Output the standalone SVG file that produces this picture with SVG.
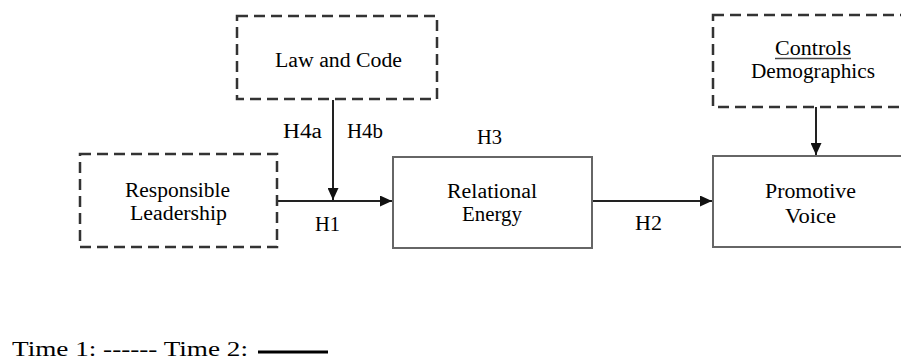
<svg xmlns="http://www.w3.org/2000/svg" width="901" height="360" viewBox="0 0 901 360">
<style>
text{font-family:"Liberation Serif","Times New Roman",serif;font-size:20px;fill:#000;}
.dash{fill:#fff;stroke:#333;stroke-width:2.5;stroke-dasharray:11 6;}
.solid{fill:#fff;stroke:#666;stroke-width:2;}
.conn{stroke:#222;stroke-width:2;fill:none;}
</style>
<defs>
<marker id="ah" viewBox="0 0 12 11" refX="12" refY="5.5" markerWidth="12" markerHeight="11" markerUnits="userSpaceOnUse" orient="auto">
<path d="M0,0 L12,5.5 L0,11 Z" fill="#111"/>
</marker>
</defs>
<rect width="901" height="360" fill="#fff"/>
<g id="connectors">
<line class="conn" x1="333" y1="100" x2="333" y2="200" marker-end="url(#ah)"/>
<line class="conn" x1="277" y1="201" x2="392" y2="201" marker-end="url(#ah)"/>
<line class="conn" x1="593" y1="201" x2="712" y2="201" marker-end="url(#ah)"/>
<line class="conn" x1="816" y1="107" x2="816" y2="155" marker-end="url(#ah)"/>
<text x="283" y="138" textLength="39" lengthAdjust="spacingAndGlyphs">H4a</text>
<text x="347" y="138" textLength="36" lengthAdjust="spacingAndGlyphs">H4b</text>
<text x="477" y="144" textLength="25" lengthAdjust="spacingAndGlyphs">H3</text>
<text x="315" y="231" textLength="25" lengthAdjust="spacingAndGlyphs">H1</text>
<text x="635" y="230" textLength="27" lengthAdjust="spacingAndGlyphs">H2</text>
</g>
<g id="law">
<rect class="dash" x="237" y="16" width="200" height="83"/>
<text x="275" y="67" textLength="127" lengthAdjust="spacingAndGlyphs">Law and Code</text>
</g>
<g id="responsible">
<rect class="dash" x="80" y="154" width="197" height="93"/>
<text x="125" y="197" textLength="105" lengthAdjust="spacingAndGlyphs">Responsible</text>
<text x="130" y="220" textLength="97" lengthAdjust="spacingAndGlyphs">Leadership</text>
</g>
<g id="relational">
<rect class="solid" x="393" y="157" width="199" height="91"/>
<text x="447" y="198" textLength="90" lengthAdjust="spacingAndGlyphs">Relational</text>
<text x="462" y="221" textLength="60" lengthAdjust="spacingAndGlyphs">Energy</text>
</g>
<g id="controls">
<rect class="dash" x="713" y="15" width="200" height="92"/>
<text x="775" y="55" textLength="76" lengthAdjust="spacingAndGlyphs">Controls</text>
<line x1="775" y1="58.5" x2="851" y2="58.5" stroke="#444" stroke-width="1.5"/>
<text x="751" y="78" textLength="124" lengthAdjust="spacingAndGlyphs">Demographics</text>
</g>
<g id="promotive">
<rect class="solid" x="713" y="156" width="200" height="91"/>
<text x="765" y="198" textLength="91" lengthAdjust="spacingAndGlyphs">Promotive</text>
<text x="785" y="223" textLength="51" lengthAdjust="spacingAndGlyphs">Voice</text>
</g>
<g id="legend">
<text x="12" y="356" textLength="236" lengthAdjust="spacingAndGlyphs">Time 1: ------ Time 2:</text>
<line x1="258" y1="352" x2="328" y2="352" stroke="#000" stroke-width="3"/>
</g>
</svg>
